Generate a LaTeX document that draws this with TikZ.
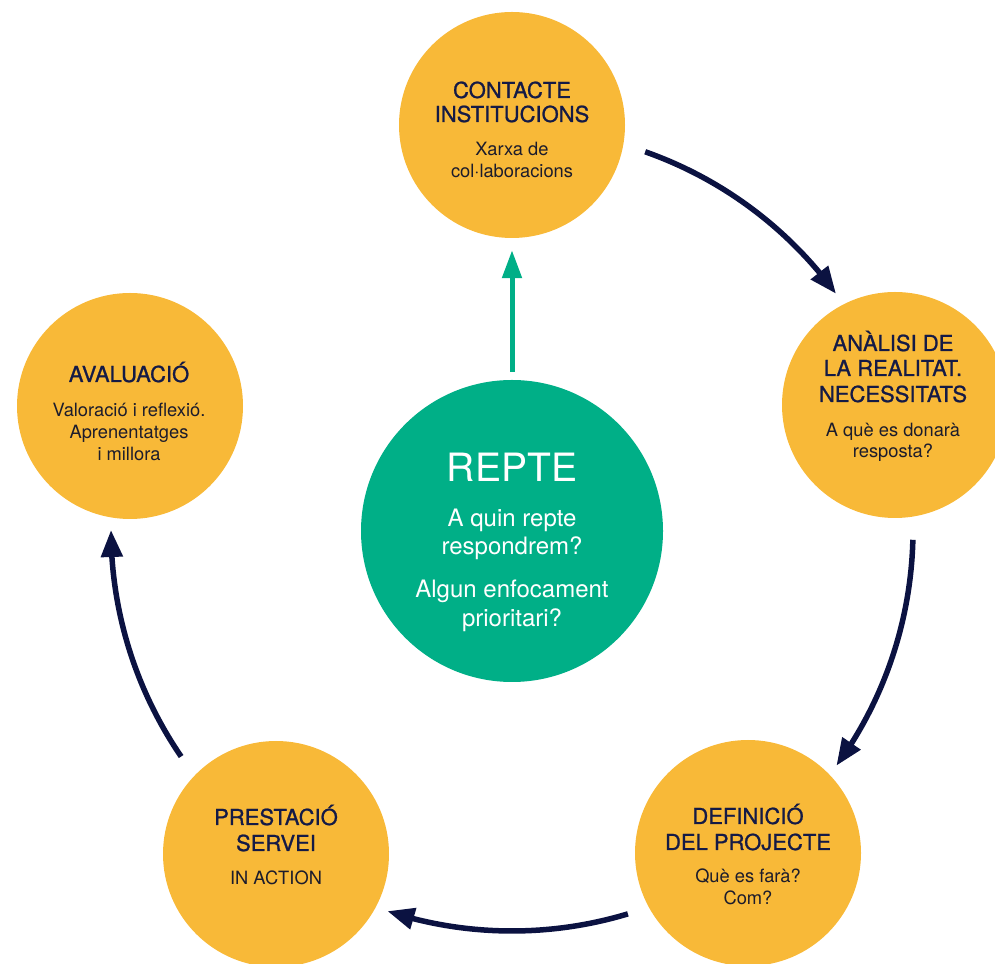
\documentclass[tikz,border=0pt]{standalone}
\usepackage{fontspec}
\setmainfont{TeX Gyre Heros}
\newfontfamily\ttlfont[FakeBold=1.0]{TeX Gyre Heros}
\usetikzlibrary{arrows.meta,calc,bending}
\definecolor{orng}{HTML}{F8B938}
\definecolor{grn}{HTML}{00AF87}
\definecolor{navy}{HTML}{0B1241}
\definecolor{ttlc}{HTML}{141A46}
\definecolor{bodyc}{HTML}{1C1C2C}
\tikzset{
  ycirc/.style={circle,fill=orng,minimum size=226pt,inner sep=0pt},
  gcirc/.style={circle,fill=grn,minimum size=302pt,inner sep=0pt},
  ttl/.style={anchor=base,inner sep=0pt,text=ttlc,font=\ttlfont\fontsize{22}{24}\selectfont},
  bdy/.style={anchor=base,inner sep=0pt,text=bodyc,font=\fontsize{18.3}{20}\selectfont},
  gbig/.style={anchor=base,inner sep=0pt,text=white,font=\fontsize{39}{42}\selectfont},
  gbdy/.style={anchor=base,inner sep=0pt,text=white,font=\fontsize{24}{26}\selectfont},
  narrow/.style={draw=navy,line width=5.5pt,-{Triangle[length=27pt,width=21pt,flex]},fill=none},
  garrow/.style={draw=grn,line width=5pt,-{Triangle[length=28pt,width=19pt]}},
}
\begin{document}
\begin{tikzpicture}[x=1pt,y=1pt]
\useasboundingbox (0,0) rectangle (995,963);
\clip (0,0) rectangle (995,963);
% circles
\node[ycirc] (top) at (512,838) {};
\node[ycirc] (anal) at (895,558) {};
\node[ycirc] (def) at (748,110) {};
\node[ycirc] (prest) at (276,109) {};
\node[ycirc] (aval) at (130,557) {};
\node[gcirc] (repte) at (512,432) {};
% texts top
\node[ttl] (t1) at (512,865) {CONTACTE};
\node[ttl] (t2) at (512,841) {INSTITUCIONS};
\node[bdy] (t3) at (512,807) {Xarxa de};
\node[bdy] (t4) at (512,785) {col·laboracions};
% right
\node[ttl] (r1) at (893,612) {ANÀLISI DE};
\node[ttl] (r2) at (893,587) {LA REALITAT.};
\node[ttl] (r3) at (893,561) {NECESSITATS};
\node[bdy] (r4) at (893,526) {A què es donarà};
\node[bdy] (r5) at (893,505) {resposta?};
% left
\node[ttl] (l1) at (129,581) {AVALUACIÓ};
\node[bdy] (l2) at (129,546) {Valoració i reflexió.};
\node[bdy] (l3) at (129,524) {Aprenentatges};
\node[bdy] (l4) at (129,502) {i millora};
% bottom left
\node[ttl] (p1) at (276,138) {PRESTACIÓ};
\node[ttl] (p2) at (276,112) {SERVEI};
\node[bdy] (p3) at (276,78) {IN ACTION};
% bottom right
\node[ttl] (d1) at (748,139) {DEFINICIÓ};
\node[ttl] (d2) at (748,113) {DEL PROJECTE};
\node[bdy] (d3) at (748,80) {Què es farà?};
\node[bdy] (d4) at (748,58) {Com?};
% green
\node[gbig] (g1) at (512,481) {REPTE};
\node[gbdy] (g2) at (512,436) {A quin repte};
\node[gbdy] (g3) at (512,408) {respondrem?};
\node[gbdy] (g4) at (512,365) {Algun enfocament};
\node[gbdy] (g5) at (512,336) {prioritari?};
% arrows
\coordinate (C) at (512,433);
\coordinate (a1) at ($(C)+(70.6:401)$);
\coordinate (a2) at ($(C)+(-1.4:401)$);
\coordinate (a3) at ($(C)+(-73.2:401)$);
\coordinate (a4) at ($(C)+(-145.6:401)$);
\draw[narrow] (a1) arc[start angle=70.6,end angle=36.1,radius=401];
\draw[narrow] (a2) arc[start angle=-1.4,end angle=-36.0,radius=401];
\draw[narrow] (a3) arc[start angle=-73.2,end angle=-108.1,radius=401];
\draw[narrow] (a4) arc[start angle=-145.6,end angle=-180.0,radius=401];
\draw[garrow,shorten <=8pt,shorten >=12pt] (repte.north) -- (top.south);
\end{tikzpicture}
\end{document}
